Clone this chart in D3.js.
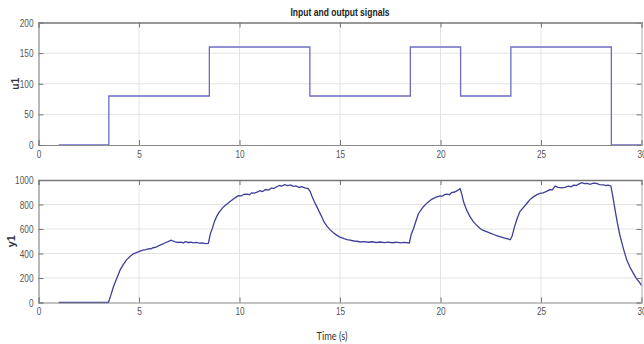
<!DOCTYPE html>
<html><head><meta charset="utf-8">
<script src="https://cdn.jsdelivr.net/npm/d3@7"></script>
<style>
body{margin:0;background:#fff;}
svg{display:block;}
</style></head>
<body><svg id="c" width="644" height="344"></svg>
<script>
// ---- data ----
const xTicks = [0,5,10,15,20,25,30];
const u1Ticks = [0,50,100,150,200];
const y1Ticks = [0,200,400,600,800,1000];
// u1 step input: [time, value]
const u1Data = [[1,0],[3.5,0],[3.5,80],[8.5,80],[8.5,160],[13.5,160],[13.5,80],[18.5,80],[18.5,160],[21,160],[21,80],[23.5,80],[23.5,160],[28.5,160],[28.5,0],[30,0]];
// y1 measured output: [time, value]
const y1Data = [
[1,0],[3.48,0],[3.6,60],[3.72,125],[3.9,200],[4.05,262],[4.2,305],[4.39,350],[4.55,375],[4.72,398],[4.9,410],[5.05,420],[5.2,428],[5.35,432],[5.5,440],[5.6,438],[5.7,447],[5.85,452],[6.0,465],[6.1,472],[6.2,478],[6.3,488],[6.45,497],[6.6,508],[6.7,502],[6.8,495],[6.95,490],[7.1,493],[7.2,486],[7.3,497],[7.45,490],[7.6,492],[7.7,487],[7.85,490],[8.0,484],[8.15,487],[8.3,480],[8.45,482],
[8.55,560],[8.65,605],[8.75,660],[8.87,705],[9.0,740],[9.2,780],[9.35,800],[9.53,825],[9.7,845],[9.85,862],[9.95,872],[10.1,870],[10.2,882],[10.36,885],[10.5,880],[10.6,895],[10.75,893],[10.9,903],[11.02,912],[11.15,905],[11.3,922],[11.45,918],[11.6,935],[11.7,930],[11.85,945],[12.0,955],[12.1,950],[12.25,962],[12.4,955],[12.55,960],[12.67,948],[12.8,952],[12.95,940],[13.1,945],[13.25,935],[13.42,930],
[13.52,905],[13.6,870],[13.72,825],[13.84,785],[13.97,740],[14.09,700],[14.2,660],[14.34,625],[14.5,595],[14.67,570],[14.85,548],[15.0,534],[15.2,522],[15.35,514],[15.5,510],[15.7,502],[15.85,500],[16.0,494],[16.2,497],[16.4,492],[16.6,496],[16.8,490],[17.0,494],[17.2,489],[17.4,493],[17.6,488],[17.8,492],[18.0,487],[18.2,490],[18.45,486],
[18.55,560],[18.65,600],[18.78,665],[18.9,725],[19.05,760],[19.15,782],[19.35,815],[19.56,842],[19.75,858],[19.98,870],[20.1,868],[20.2,880],[20.31,884],[20.45,880],[20.55,898],[20.7,902],[20.85,915],[20.97,930],
[21.05,890],[21.15,820],[21.3,755],[21.45,705],[21.63,660],[21.8,630],[21.96,606],[22.1,590],[22.29,578],[22.5,565],[22.65,555],[22.79,546],[23.0,535],[23.2,525],[23.35,520],[23.47,512],
[23.56,540],[23.66,605],[23.8,680],[23.95,742],[24.1,770],[24.29,808],[24.45,840],[24.62,862],[24.8,880],[24.95,890],[25.1,895],[25.25,905],[25.45,922],[25.55,918],[25.7,950],[25.85,940],[26.0,935],[26.2,940],[26.35,950],[26.5,945],[26.61,958],[26.75,955],[26.9,968],[27.03,978],[27.15,970],[27.3,972],[27.44,965],[27.6,975],[27.77,972],[27.9,962],[28.1,960],[28.25,955],[28.35,958],[28.48,950],
[28.58,860],[28.68,760],[28.8,650],[28.93,545],[29.1,440],[29.26,350],[29.42,290],[29.59,240],[29.75,195],[29.93,158],[30,140]
];
const titleText = "Input and output signals";
const xLabel = "Time (s)";

// ---- layout ----
const svg = d3.select("#c");
const L = 38.5, R = 641.5;
const x = d3.scaleLinear().domain([0,30]).range([L,R]);
const panels = [
  {top:22.5, bottom:145, domain:[0,200], ticks:u1Ticks, data:u1Data, label:"u1", color:"#6b6bc4", lx:15.5},
  {top:180, bottom:302.5, domain:[0,1000], ticks:y1Ticks, data:y1Data, label:"y1", color:"#3f3f98", lx:11.5}
];
const tickFont = "'Liberation Sans',Arial,sans-serif";
const narrow = (sel, per) => sel.each(function(){
  const t = d3.select(this);
  const n = (t.text()||"").length;
  if (n) t.attr("textLength", n*per).attr("lengthAdjust","spacingAndGlyphs");
});

panels.forEach(p=>{
  const y = d3.scaleLinear().domain(p.domain).range([p.bottom,p.top]);
  const g = svg.append("g");
  // grid
  g.selectAll(".gx").data(xTicks.slice(1,-1)).join("line")
    .attr("x1",d=>x(d)).attr("x2",d=>x(d)).attr("y1",p.top).attr("y2",p.bottom)
    .attr("stroke","#e3e3e3").attr("stroke-width",1);
  g.selectAll(".gy").data(p.ticks.slice(1,-1)).join("line")
    .attr("y1",d=>y(d)).attr("y2",d=>y(d)).attr("x1",L).attr("x2",R)
    .attr("stroke","#e3e3e3").attr("stroke-width",1);
  // data line
  const line = d3.line().x(d=>x(d[0])).y(d=>y(d[1]));
  g.append("path").datum(p.data).attr("d",line).attr("fill","none")
    .attr("stroke",p.color).attr("stroke-width",1.3);
  // axes
  const ax = d3.axisBottom(x).tickValues(xTicks).tickSize(-5).tickPadding(5).tickFormat(d3.format("d"));
  const axT = d3.axisTop(x).tickValues(xTicks).tickSize(-5).tickFormat("");
  const ay = d3.axisLeft(y).tickValues(p.ticks).tickSize(-5).tickPadding(5).tickFormat(d3.format("d"));
  const ayR = d3.axisRight(y).tickValues(p.ticks).tickSize(-5).tickFormat("");
  const style = s=>{
    s.select(".domain").attr("stroke","#8a8a8a").attr("stroke-width",1.2);
    s.selectAll(".tick line").attr("stroke","#777").attr("stroke-width",1);
    s.selectAll(".tick text").attr("fill","#555").style("font-family",tickFont).style("font-size","11px")
      .call(narrow, 4.6);
  };
  g.append("g").attr("transform",`translate(0,${p.bottom})`).call(ax).call(style);
  g.append("g").attr("transform",`translate(0,${p.top})`).call(axT).call(style)
    .select(".domain").attr("stroke","#777").attr("stroke-width",1.6);
  g.append("g").attr("transform",`translate(${L},0)`).call(ay).call(style);
  g.append("g").attr("transform",`translate(${R},0)`).call(ayR).call(style)
    .select(".domain").attr("stroke","#aaa").attr("stroke-width",1);
  g.selectAll(".domain").attr("fill","none");
  // y label
  g.append("text").attr("transform",`translate(${p.lx},${(p.top+p.bottom)/2}) rotate(-90)`)
    .attr("text-anchor","middle").attr("dy","0.35em")
    .style("font-family",tickFont).style("font-size","11px").style("font-weight","bold")
    .attr("fill","#333").attr("textLength",12).attr("lengthAdjust","spacingAndGlyphs").text(p.label);
});

svg.append("text").attr("x",340).attr("y",15.5).attr("text-anchor","middle")
  .style("font-family",tickFont).style("font-size","11.5px").style("font-weight","bold")
  .attr("fill","#222").attr("textLength",99).attr("lengthAdjust","spacingAndGlyphs").text(titleText);
svg.append("text").attr("x",332).attr("y",339.5).attr("text-anchor","middle")
  .style("font-family","Lato,'Open Sans',sans-serif").style("font-size","11px")
  .attr("fill","#333").attr("textLength",31).attr("lengthAdjust","spacingAndGlyphs").text(xLabel);
</script></body></html>
